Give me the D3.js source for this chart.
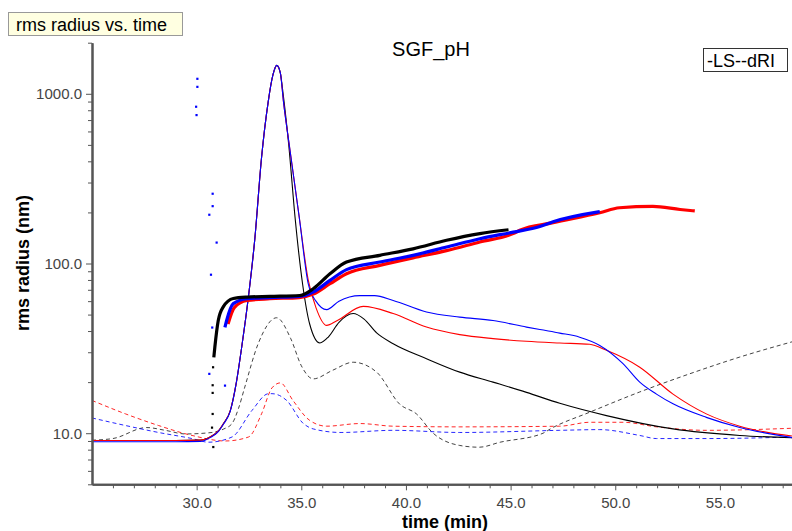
<!DOCTYPE html>
<html>
<head>
<meta charset="utf-8">
<script src="https://cdn.jsdelivr.net/npm/d3@7"></script>
<style>
  body { margin: 0; background: #fff; }
  text { font-family: "Liberation Sans", Arial, sans-serif; }
  .axis .domain { stroke: #555; stroke-width: 2; }
  .axis .tick line { stroke: #555; }
  .axis .tick text { fill: #444; font-size: 15px; }
</style>
</head>
<body>
<div id="chart"></div>
<script>
// section 1: data, [time (min), value (nm)]

// LS traces (thin solid)
const lsBlack = [[25,9.05],[29,9.05],[30.2,9.1],[30.7,9.6],[31.0,10.2],[31.3,11.5],[31.6,13.5],[31.9,20],[32.15,32],[32.47,63],[32.78,140],[33.1,420],[33.42,900],[33.65,1300],[33.83,1470],[34.0,1320],[34.14,980],[34.4,500],[34.7,188],[35.06,76],[35.4,44],[35.89,34],[36.3,37],[36.8,45],[37.48,50.7],[38.0,47],[38.6,39],[39.39,33.7],[40.98,27.5],[42.57,22.9],[44.16,20],[45.76,17.4],[47.35,15],[49.58,12.7],[52.76,10.6],[55.95,9.7],[58.5,9.4]];
const lsBlue = [[25,8.9],[29,8.9],[30.2,8.95],[30.7,9.5],[31.0,10.1],[31.3,11.4],[31.6,13.4],[31.9,20],[32.15,32],[32.47,63],[32.78,140],[33.1,420],[33.42,900],[33.65,1300],[33.83,1470],[34.0,1330],[34.14,918],[34.46,465],[34.9,188],[35.33,76],[35.7,60],[36.21,53.5],[36.8,60],[37.8,64.7],[38.5,64.7],[39.39,60.6],[40.98,51.8],[42.57,48.3],[44.16,46.1],[45.76,42.2],[46.4,40.8],[47.35,38.9],[48.3,36.8],[49.26,32.9],[50.37,25.7],[51.17,20],[51.97,17],[52.76,14.9],[54.35,12.4],[55.95,10.8],[58.5,9.4]];
const lsRed = [[25,9.05],[29,9.05],[30.2,9.1],[30.7,9.6],[31.0,10.2],[31.3,11.5],[31.6,13.5],[31.9,20],[32.15,32],[32.47,63],[32.78,140],[33.1,420],[33.42,900],[33.65,1300],[33.83,1470],[34.0,1330],[34.14,918],[34.46,465],[34.9,188],[35.33,80],[35.7,55],[36.21,43.2],[36.7,46],[37.96,55.9],[39.39,50.7],[40.98,42.2],[42.57,38.1],[44.16,36.1],[45.76,34.8],[47.35,34],[48.78,33.4],[49.58,30.8],[51.17,24.5],[52.76,17],[54.35,13],[55.95,11],[58.5,9.6]];

// dRI traces (dashed)
const driBlack = [[25,9.1],[26,9.3],[27.6,10.8],[28.5,10.4],[29.46,9.9],[30.73,10.1],[31.3,10.6],[31.69,11.4],[32.0,14],[32.3,18.7],[32.94,33.7],[33.82,47.9],[34.5,36],[35.0,25],[35.57,20.9],[36.5,23.5],[37.48,26.2],[38.6,22.9],[39.71,14.8],[40.5,13],[41.3,10],[42.57,8.47],[43.5,8.27],[44.5,8.85],[46.55,10],[46.9,10.6],[48.78,13.3],[51.17,17.5],[53.56,22.4],[55.95,28.1],[58.5,34.7]];
const driRed = [[25,15.6],[26.6,13],[28.18,11.1],[29.78,9.7],[31.37,9.0],[32.48,9.5],[33.1,13],[33.6,18.5],[34.0,19.8],[34.6,15.6],[35.4,11.9],[36.2,11.0],[37.8,11.4],[39.39,11.0],[42.57,10.9],[47.35,11.0],[48.78,11.6],[50.37,11.6],[51.97,10.9],[54.35,10.4],[58.5,10.7]];
const driBlue = [[25,12.3],[26.6,11.1],[28.18,10.1],[29.78,9.3],[30.57,8.85],[31.69,9.5],[32.64,13.6],[33.44,17.1],[33.6,17.1],[34.3,15.6],[35.1,11.4],[35.57,10.6],[36.9,10.1],[39.39,10.4],[42.57,10.1],[47.35,10.4],[49.26,10.5],[51.17,9.7],[51.97,9.3],[54.35,9.3],[58.5,9.5]];

// rms radius (dense dots, drawn as thick trace)
const rmsBlack = [[30.82,28],[30.87,32.2],[31.03,46],[31.27,55.5],[31.75,62.2],[32.4,63.4],[33.5,64],[34.93,64.8],[35.57,71],[36.37,87],[37.16,102],[38.75,111.7],[40.34,122],[41.94,137],[43.53,150],[44.9,158]];
const rmsBlue = [[31.35,42],[31.43,46],[31.75,58],[32.4,62],[33.5,63],[34.9,64],[35.57,67.9],[36.37,79.5],[37.16,92],[38.75,102],[40.34,111.7],[41.94,125],[43.53,140],[45.12,153],[46.4,165],[47.03,176],[49.26,202]];
const rmsRed = [[31.5,44],[31.8,55],[32.4,60.5],[33.5,62],[34.9,63],[35.57,66],[36.37,76],[37.16,87],[38.75,97.5],[40.34,108],[41.94,119],[43.53,134],[45.12,150],[45.44,157],[47.03,174],[49.26,199],[50.2,213],[51.8,217],[53.1,208],[53.8,204]];

// stray rms points near the start of the peak
const strayBlack = [[30.79,8.3],[30.73,10.8],[30.76,13],[30.76,17.3],[30.76,19.2],[30.78,24.5]];
const strayBlue = [[30.03,1227],[30.03,1100],[29.97,840],[29.99,750],[30.76,258],[30.76,218],[30.6,194],[30.95,133],[30.68,86],[30.74,42],[30.6,22.4],[31.35,19.1]];

const xMajor = [30, 35, 40, 45, 50, 55];
const yMajor = [10, 100, 1000];

// section 2: canvas
const svgWidth = 792;
const svgHeight = 531;
const plot = {left: 92, right: 792, top: 42.7, bottom: 484.3};

const svg = d3.select('#chart').append('svg')
    .attr('width', svgWidth).attr('height', svgHeight);

const x = d3.scaleLinear().domain([25, 25 + 700 / 20.93]).range([plot.left, plot.right]);
const y = d3.scaleLog().domain([5, 2000]).range([plot.bottom, plot.top]);

svg.append('clipPath').attr('id', 'clip')
  .append('rect')
    .attr('x', plot.left).attr('y', plot.top)
    .attr('width', plot.right - plot.left).attr('height', plot.bottom - plot.top);

const line = d3.line()
    .x(d => x(d[0]))
    .y(d => y(d[1]))
    .curve(d3.curveMonotoneX);

const marks = svg.append('g').attr('clip-path', 'url(#clip)');

// dashed dRI first, underneath
[[driBlack, '#222'], [driRed, '#ff0000'], [driBlue, '#0000ff']].forEach(([data, color]) => {
    marks.append('path').datum(data)
        .attr('d', line)
        .attr('fill', 'none')
        .attr('stroke', color)
        .attr('stroke-width', 1)
        .attr('stroke-dasharray', '4,3')
        .attr('opacity', 0.85);
});

// LS solid
[[lsBlack, '#000'], [lsRed, '#ff0000'], [lsBlue, '#0000ff']].forEach(([data, color]) => {
    marks.append('path').datum(data)
        .attr('d', line)
        .attr('fill', 'none')
        .attr('stroke', color)
        .attr('stroke-width', 1.1);
});

// rms radius dots
[[rmsRed, '#ff0000'], [rmsBlue, '#0000ff'], [rmsBlack, '#000']].forEach(([data, color]) => {
    marks.append('path').datum(data)
        .attr('d', line)
        .attr('fill', 'none')
        .attr('stroke', color)
        .attr('stroke-width', 3.2);
});

[[strayBlack, '#000'], [strayBlue, '#0000ff']].forEach(([data, color]) => {
    marks.selectAll(null).data(data).enter()
      .append('rect')
        .attr('x', d => x(d[0]) - 1)
        .attr('y', d => y(d[1]) - 1)
        .attr('width', 2.2).attr('height', 2.2)
        .attr('fill', color);
});

// section 3: axes
const xMinor = d3.range(26, 59).filter(v => v % 5 !== 0);
const yMinor = [];
[1, 10, 100, 1000].forEach(dec => {
    for (let k = 2; k <= 9; k++) {
        const v = dec * k;
        if (v >= 5 && v <= 2000) yMinor.push(v);
    }
});

svg.append('g').attr('class', 'axis')
    .attr('transform', `translate(0, ${plot.bottom})`)
    .call(d3.axisBottom(x).tickValues(xMinor).tickSize(4).tickSizeOuter(0).tickFormat(''));

svg.append('g').attr('class', 'axis')
    .attr('transform', `translate(0, ${plot.bottom})`)
    .call(d3.axisBottom(x).tickValues(xMajor).tickSize(6).tickSizeOuter(0).tickPadding(7)
        .tickFormat(d3.format('.1f')));

svg.append('g').attr('class', 'axis')
    .attr('transform', `translate(${plot.left}, 0)`)
    .call(d3.axisLeft(y).tickValues(yMinor).tickSize(4).tickSizeOuter(0).tickFormat(''));

svg.append('g').attr('class', 'axis')
    .attr('transform', `translate(${plot.left}, 0)`)
    .call(d3.axisLeft(y).tickValues(yMajor).tickSize(6).tickSizeOuter(0).tickPadding(4)
        .tickFormat(d3.format('.1f')));

// labels
svg.append('text')
    .attr('x', 445).attr('y', 528)
    .attr('text-anchor', 'middle')
    .attr('font-size', '18px').attr('font-weight', 'bold')
    .text('time (min)');

svg.append('text')
    .attr('transform', 'translate(29, 263) rotate(-90)')
    .attr('text-anchor', 'middle')
    .attr('font-size', '18px').attr('font-weight', 'bold')
    .text('rms radius (nm)');

svg.append('text')
    .attr('x', 431).attr('y', 56)
    .attr('text-anchor', 'middle')
    .attr('font-size', '20px')
    .text('SGF_pH');

// title box
svg.append('rect')
    .attr('x', 8.5).attr('y', 12.5).attr('width', 174).attr('height', 23)
    .attr('fill', '#ffffe1').attr('stroke', '#999');
svg.append('text')
    .attr('x', 16).attr('y', 31)
    .attr('font-size', '18px')
    .text('rms radius vs. time');

// legend box
svg.append('rect')
    .attr('x', 703.5).attr('y', 48.5).attr('width', 84).attr('height', 23)
    .attr('fill', '#fff').attr('stroke', '#333');
svg.append('text')
    .attr('x', 707).attr('y', 66.5)
    .attr('font-size', '18px')
    .text('-LS--dRI');
</script>
</body>
</html>
